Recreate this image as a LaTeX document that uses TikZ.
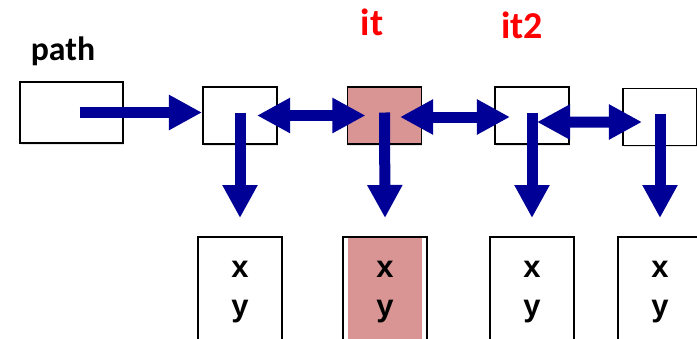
\documentclass[tikz,border=0pt]{standalone}
\usepackage{fontspec}
\setmainfont{Liberation Sans}
\newfontfamily\labelfont{Carlito}
\usepackage{xcolor}
\usetikzlibrary{arrows.meta,calc,shadows}
\definecolor{ptrblue}{RGB}{0,0,150}
\definecolor{curfill}{RGB}{217,149,148}
\definecolor{itred}{RGB}{255,0,0}

\begin{document}
\begin{tikzpicture}[x=0.025cm,y=-0.025cm,
  >={Triangle[length=0.825cm,width=0.825cm]},
  cell/.style={draw,line width=1.4pt,fill=white,inner sep=0pt,
    drop shadow={opacity=0.2,shadow xshift=0.7pt,shadow yshift=-1.2pt}},
  listnode/.style={cell,minimum width=1.85cm,minimum height=1.425cm},
  datanode/.style={cell,minimum width=2.1cm,minimum height=2.75cm,align=center,
    font=\bfseries\fontsize{22}{28.4}\selectfont},
  current/.style={path picture={\fill[curfill]
    ($(path picture bounding box.north west)+(5,0)$) rectangle
    ($(path picture bounding box.south east)+(-5,0)$);}},
  varname/.style={anchor=base,font=\labelfont\bfseries\fontsize{24}{28}\selectfont},
  itername/.style={varname,text=itred,font=\labelfont\bfseries\fontsize{27}{31}\selectfont},
  ptr/.style={draw=ptrblue,line width=0.275cm}]
  \useasboundingbox (0,0) rectangle (697,338);

  % head pointer and list nodes
  \node[cell,minimum width=2.575cm,minimum height=1.525cm] (path) at (71.5,112.5) {};
  \node[varname] (pathname) at (63,60) {path};
  \node[listnode] (n1) at (240,115.5) {};
  \node[listnode,fill=curfill] (n2) at (384.5,115.5) {};
  \node[listnode] (n3) at (532,115.5) {};
  \node[listnode] (n4) at (660,117) {};
  \node[itername] (itname) at (372,35) {it};
  \node[itername] (it2name) at (522,38) {it2};

  % data records
  \node[datanode] (b1) at (240,292) {x\\y};
  \node[datanode,current] (b2) at (385,292) {x\\y};
  \node[datanode] (b3) at (532,292) {x\\y};
  \node[datanode] (b4) at (660,292) {x\\y};

  % links
  \draw[ptr,->] ($(path.center)+(8,0)$) -- (path.center -| n1.west);
  \draw[ptr,<->] ($(n1.center)+(17,0)$) -- ($(n2.center)+(-19,0)$);
  \draw[ptr,<->] ($(n2.center)+(15.5,1.5)$) -- ($(n3.center)+(-22,1.5)$);
  \draw[ptr,<->] ($(n3.center)+(5,6.5)$) -- ($(n4.center)+(-18,5)$);
  \foreach \n/\b in {n1/b1,n2/b2,n3/b3,n4/b4}
    \draw[ptr,->] ($(\n.center)+(0,-3)$) -- ($(\b.north)+(0,-18)$);
\end{tikzpicture}
\end{document}
